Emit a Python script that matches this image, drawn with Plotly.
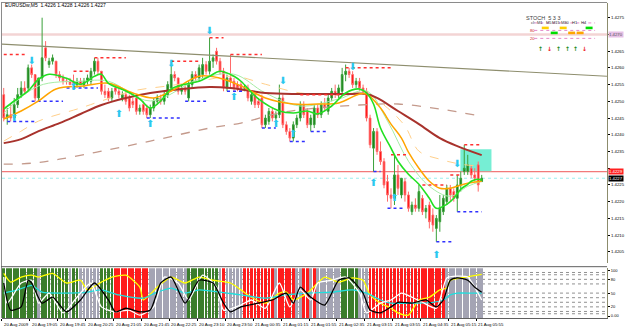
import plotly.graph_objects as go

W, H = 625, 327
def fx(p): return p / W
def fy(p): return 1 - p / H

# ---------------- data ----------------
bars = list(range(138))
opens = [1.4252,1.4245,1.4246,1.4245,1.4249,1.4252,1.4254,1.4254,1.4260,1.4258,
         1.4251,1.4257,1.4266,1.4261,1.4262,1.4262,1.4258,1.4257,1.4256,1.4256,
         1.4256,1.4255,1.4256,1.4255,1.4256,1.4256,1.4259,1.4262,1.4259,1.4253,
         1.4253,1.4251,1.4254,1.4253,1.4251,1.4252,1.4251,1.4250,1.4251,1.4247,
         1.4249,1.4248,1.4246,1.4248,1.4250,1.4251,1.4250,1.4252,1.4254,1.4258,
         1.4257,1.4253,1.4254,1.4251,1.4255,1.4258,1.4257,1.4258,1.4261,1.4259,
         1.4262,1.4265,1.4262,1.4259,1.4254,1.4257,1.4256,1.4255,1.4255,1.4254,
         1.4254,1.4250,1.4252,1.4250,1.4251,1.4243,1.4244,1.4247,1.4245,1.4246,
         1.4251,1.4243,1.4241,1.4239,1.4243,1.4245,1.4249,1.4247,1.4243,1.4243,
         1.4248,1.4246,1.4249,1.4247,1.4251,1.4253,1.4252,1.4253,1.4258,1.4259,
         1.4258,1.4255,1.4256,1.4254,1.4253,1.4245,1.4236,1.4241,1.4235,1.4232,
         1.4226,1.4222,1.4221,1.4228,1.4222,1.4226,1.4222,1.4217,1.4219,1.4218,
         1.4221,1.4217,1.4219,1.4216,1.4212,1.4214,1.4217,1.4220,1.4224,1.4223,
         1.4221,1.4225,1.4229,1.4229,1.4230,1.4228,1.4231,1.4226]
highs = [1.4254,1.4248,1.4249,1.4251,1.4254,1.4256,1.4256,1.4261,1.4261,1.4258,
         1.4257,1.4275,1.4268,1.4263,1.4264,1.4262,1.4259,1.4258,1.4257,1.4257,
         1.4258,1.4257,1.4257,1.4257,1.4258,1.4260,1.4263,1.4263,1.4259,1.4255,
         1.4254,1.4254,1.4255,1.4254,1.4253,1.4253,1.4252,1.4251,1.4251,1.4249,
         1.4250,1.4249,1.4249,1.4251,1.4252,1.4252,1.4253,1.4256,1.4262,1.4259,
         1.4257,1.4255,1.4255,1.4256,1.4259,1.4259,1.4261,1.4263,1.4262,1.4269,
         1.4264,1.4266,1.4263,1.4260,1.4258,1.4264,1.4257,1.4256,1.4256,1.4255,
         1.4255,1.4253,1.4253,1.4251,1.4252,1.4246,1.4248,1.4248,1.4247,1.4255,
         1.4252,1.4244,1.4242,1.4244,1.4246,1.4250,1.4250,1.4248,1.4246,1.4249,
         1.4249,1.4250,1.4251,1.4252,1.4254,1.4255,1.4255,1.4260,1.4261,1.4260,
         1.4259,1.4257,1.4257,1.4255,1.4254,1.4246,1.4242,1.4242,1.4238,1.4233,
         1.4228,1.4224,1.4234,1.4231,1.4227,1.4227,1.4223,1.4220,1.4221,1.4225,
         1.4222,1.4219,1.4220,1.4218,1.4216,1.4222,1.4222,1.4225,1.4225,1.4224,
         1.4228,1.4229,1.4237,1.4234,1.4231,1.4230,1.4232,1.4228]
lows = [1.4244,1.4243,1.4244,1.4244,1.4248,1.4251,1.4252,1.4253,1.4257,1.4250,
        1.4250,1.4256,1.4262,1.4260,1.4261,1.4257,1.4256,1.4255,1.4255,1.4255,
        1.4254,1.4254,1.4255,1.4254,1.4255,1.4255,1.4258,1.4258,1.4252,1.4251,
        1.4250,1.4250,1.4252,1.4251,1.4250,1.4249,1.4247,1.4248,1.4246,1.4246,
        1.4246,1.4245,1.4245,1.4247,1.4249,1.4249,1.4249,1.4251,1.4253,1.4256,
        1.4252,1.4252,1.4252,1.4250,1.4254,1.4256,1.4256,1.4257,1.4258,1.4258,
        1.4260,1.4261,1.4258,1.4253,1.4253,1.4254,1.4253,1.4253,1.4253,1.4253,
        1.4250,1.4249,1.4248,1.4248,1.4242,1.4242,1.4243,1.4244,1.4243,1.4245,
        1.4242,1.4240,1.4238,1.4238,1.4242,1.4244,1.4245,1.4242,1.4241,1.4242,
        1.4245,1.4245,1.4247,1.4246,1.4250,1.4251,1.4251,1.4252,1.4256,1.4257,
        1.4254,1.4254,1.4253,1.4252,1.4244,1.4236,1.4229,1.4234,1.4231,1.4224,
        1.4220,1.4218,1.4219,1.4222,1.4221,1.4220,1.4217,1.4216,1.4217,1.4217,
        1.4216,1.4215,1.4212,1.4211,1.4208,1.4211,1.4216,1.4219,1.4220,1.4220,
        1.4217,1.4223,1.4228,1.4228,1.4227,1.4226,1.4223,1.4226]
closes = [1.4245,1.4246,1.4245,1.4249,1.4252,1.4254,1.4253,1.4260,1.4258,1.4251,
          1.4257,1.4263,1.4263,1.4262,1.4263,1.4258,1.4257,1.4256,1.4256,1.4255,
          1.4255,1.4256,1.4255,1.4256,1.4257,1.4259,1.4262,1.4259,1.4253,1.4252,
          1.4251,1.4253,1.4253,1.4252,1.4252,1.4250,1.4248,1.4249,1.4247,1.4248,
          1.4247,1.4246,1.4248,1.4250,1.4251,1.4250,1.4252,1.4255,1.4258,1.4257,
          1.4253,1.4254,1.4253,1.4255,1.4258,1.4257,1.4260,1.4261,1.4259,1.4262,
          1.4263,1.4262,1.4259,1.4254,1.4257,1.4256,1.4254,1.4254,1.4253,1.4254,
          1.4251,1.4252,1.4249,1.4249,1.4243,1.4245,1.4247,1.4245,1.4246,1.4251,
          1.4243,1.4241,1.4239,1.4243,1.4245,1.4249,1.4246,1.4243,1.4245,1.4248,
          1.4246,1.4249,1.4248,1.4251,1.4253,1.4252,1.4254,1.4258,1.4259,1.4258,
          1.4255,1.4256,1.4254,1.4253,1.4245,1.4237,1.4241,1.4235,1.4232,1.4225,
          1.4222,1.4221,1.4228,1.4224,1.4227,1.4222,1.4218,1.4219,1.4218,1.4223,
          1.4217,1.4218,1.4214,1.4213,1.4215,1.4218,1.4221,1.4224,1.4222,1.4221,
          1.4225,1.4227,1.4230,1.4231,1.4228,1.4227,1.4225,1.4227]

# moving averages
ma_brown_x = [0,5,10,16,22,28,35,42,51,59,65,75,85,99,104,107,113,119,125,130,137]
ma_brown_y = [1.42375,1.42387,1.42411,1.42435,1.42462,1.42489,1.42510,1.42525,1.42537,1.42543,
              1.42540,1.42525,1.42522,1.42522,1.42522,1.42510,1.42471,1.42432,1.42390,1.42366,1.42339]
ma_green_x = [0,3,7,10,13,18,22,26,28,30,35,39,42,45,48,52,56,59,62,66,68,73,79,83,87,90,94,98,
              102,104,106,108,111,113,116,119,122,124,127,129,131,133,134,136,137]
ma_green_y = [1.42477,1.42501,1.42531,1.42566,1.42581,1.42569,1.42551,1.42575,1.42581,1.42554,
              1.42531,1.42507,1.42480,1.42501,1.42537,1.42551,1.42560,1.42575,1.42590,1.42575,
              1.42560,1.42507,1.42471,1.42465,1.42471,1.42462,1.42486,1.42525,1.42537,1.42525,
              1.42492,1.42420,1.42360,1.42321,1.42282,1.42252,1.42210,1.42180,1.42192,1.42210,
              1.42237,1.42252,1.42261,1.42267,1.42264]
ma_orange_x = [0,5,10,15,23,30,37,43,48,56,62,68,75,83,90,96,102,104,108,111,114,116,119,122,125,128,130,133,137]
ma_orange_y = [1.42447,1.42471,1.42501,1.42537,1.42546,1.42554,1.42525,1.42510,1.42531,1.42575,
               1.42569,1.42546,1.42510,1.42492,1.42492,1.42495,1.42522,1.42522,1.42480,1.42432,
               1.42390,1.42348,1.42300,1.42261,1.42240,1.42240,1.42246,1.42255,1.42261]
ma_lorange_x = [0,5,10,22,28,37,47,56,66,75,85,96,104,110,115,119,125,131,137]
ma_lorange_y = [1.42381,1.42411,1.42441,1.42480,1.42501,1.42531,1.42546,1.42560,1.42575,1.42551,
                1.42525,1.42522,1.42522,1.42480,1.42426,1.42351,1.42327,1.42312,1.42306]
ma_lgreen_x = [0,10,22,30,42,56,66,75,85,96,104,110,116,122,128,133,137]
ma_lgreen_y = [1.42465,1.42546,1.42560,1.42560,1.42501,1.42566,1.42581,1.42525,1.42486,1.42507,
               1.42531,1.42441,1.42321,1.42246,1.42216,1.42246,1.42261]
ma_slow_x = [0,8,16,28,42,59,68,79,90,102,113,125,135]
ma_slow_y = [1.42312,1.42315,1.42327,1.42351,1.42381,1.42420,1.42435,1.42465,1.42480,1.42489,
             1.42492,1.42477,1.42459]

trend_x = [-0.5, 172.9]
trend_y = [1.42671, 1.42575]
line_pink = 1.4270
line_red = 1.4229
line_bid = 1.4227
box_x = [130.9, 139.8]
box_y = [1.42291, 1.42357]

res_start = [0,20,26,48,59,65,85,98,111,120,128,132]
res_end = [6,25,35,56,63,74,98,111,116,127,131,137]
res_price = [1.4264,1.4259,1.4263,1.4262,1.4269,1.4264,1.4252,1.4260,1.4234,1.4225,1.4228,1.4237]
sup_start = [1,8,18,41,52,64,74,82,88,106,110,124,130]
sup_end = [9,17,27,51,58,69,78,87,93,108,115,129,137]
sup_price = [1.4244,1.4250,1.4254,1.4245,1.4250,1.4253,1.4242,1.4238,1.4241,1.4229,1.4218,1.4208,1.4217]

dn_x = [8,48,59,80,100,130]
dn_y = [1.4262,1.4261,1.4271,1.4256,1.4260,1.4231]
up_x = [3,20,33,42,66,78,83,106,112,124]
up_y = [1.4245,1.4254,1.4246,1.4243,1.4251,1.4243,1.4240,1.42255,1.4221,1.4204]

price_ticks = [1.4205,1.4210,1.4215,1.4220,1.4225,1.4230,1.4235,1.4240,1.4245,1.4250,
               1.4255,1.4260,1.4265,1.4270,1.4275,1.4280]

time_x = [0,8,16,24,32,40,48,56,64,72,80,88,96,104,112,120,128,136]
time_labels = ["20 Aug 2009","20 Aug 19:05","20 Aug 19:45","20 Aug 20:25","20 Aug 21:05",
               "20 Aug 21:45","20 Aug 22:25","20 Aug 23:10","20 Aug 23:50","21 Aug 00:35",
               "21 Aug 01:15","21 Aug 01:55","21 Aug 02:35","21 Aug 03:15","21 Aug 03:55",
               "21 Aug 04:35","21 Aug 05:15","21 Aug 05:55"]

# sub-window
seg_start = [0,10,11,19,20,22,28,32,42,53,62,63,64,69,78,79,84,86,88,89,90,97,102,105,127]
seg_end   = [9,10,18,19,21,27,31,41,52,61,62,63,68,77,78,83,85,87,88,89,96,101,104,126,137]
seg_state = ['g','s','g','s','g','s','g','r','s','g','s','r','s','r','s','r','s','r','s','r','s','g','s','r','s']

yel_x = [0,2,5,8,10,14,18,22,24,28,31,35,39,40,44,48,52,56,60,65,68,71,75,79,81,83,87,90,92,96,100,
         103,105,108,111,113,116,119,122,125,127,128,131,134,137]
yel_y = [93,74,85,89,85,93,72,78,57,74,85,89,63,35,63,85,72,85,78,72,57,41,28,50,52,35,50,72,85,74,83,
         78,46,28,17,7,2,35,41,57,61,78,83,87,91]
cya_x = [0,4,8,11,18,24,28,33,40,44,48,52,56,64,68,75,81,87,94,100,104,108,111,116,123,126,128,130,134,137]
cya_y = [50,57,67,52,50,52,57,46,39,52,61,50,57,50,46,39,46,50,52,57,50,35,28,28,30,35,46,50,50,50]
blk_x = [0,2,5,7,8,11,14,18,22,26,30,32,35,39,42,45,48,52,56,60,63,65,68,73,77,81,83,85,88,92,96,99,
         103,105,108,111,113,117,121,124,126,128,130,133,135,137]
blk_y = [72,13,20,78,72,28,41,9,35,72,35,9,17,9,13,72,85,28,78,72,28,9,20,28,35,50,28,63,41,24,78,83,
         50,13,7,20,30,28,35,20,35,78,83,78,63,52]
wht_x = [0,1,5,8,10,13,17,21,25,28,32,36,39,43,46,50,53,57,61,63,68,71,75,79,82,85,88,90,94,98,102,
         104,108,111,114,117,120,124,127,130,133,135,137]
wht_y = [85,28,72,78,28,50,7,41,72,20,9,13,2,20,85,72,35,89,63,13,24,35,17,72,20,57,35,72,78,85,50,
         7,28,35,50,41,30,17,83,87,85,63,35]
sub_levels = [5,10,20,30,40,50,70,80,90,95]
sub_ticks = [0,20,50,80,100]

# ---------------- figure ----------------
fig = go.Figure()

state_col = {'g': '#3b7d2b', 's': '#a4a4b4', 'r': '#ff1c1c'}
bar_cols = ['#ffffff'] * len(bars)
for s, e, st in zip(seg_start, seg_end, seg_state):
    for i in range(s, e + 1):
        bar_cols[i] = state_col[st]

fig.add_trace(go.Bar(x=bars, y=[112] * len(bars), base=-6, marker=dict(color=bar_cols, line=dict(width=0)),
                     width=0.8, xaxis='x', yaxis='y2', showlegend=False, hoverinfo='skip'))
for xs, ys, c in [(yel_x, yel_y, '#ffff00'), (cya_x, cya_y, '#20dede'),
                  (wht_x, wht_y, '#ffffff'), (blk_x, blk_y, '#000000')]:
    fig.add_trace(go.Scatter(x=xs, y=ys, mode='lines', line=dict(color=c, width=1.3, shape='spline', smoothing=0.6),
                             xaxis='x', yaxis='y2', showlegend=False, hoverinfo='skip'))

# main chart lines
fig.add_trace(go.Scatter(x=trend_x, y=trend_y, mode='lines', line=dict(color='#8e8e6e', width=1.2),
                         xaxis='x2', yaxis='y', showlegend=False))
fig.add_trace(go.Scatter(x=ma_slow_x, y=ma_slow_y, mode='lines', line=dict(color='#c49a8c', width=1.3, dash='dash', shape='spline'),
                         xaxis='x2', yaxis='y', showlegend=False))
fig.add_trace(go.Scatter(x=ma_lorange_x, y=ma_lorange_y, mode='lines', line=dict(color='#ffcf8a', width=1, dash='dash', shape='spline'),
                         xaxis='x2', yaxis='y', showlegend=False))
fig.add_trace(go.Scatter(x=ma_lgreen_x, y=ma_lgreen_y, mode='lines', line=dict(color='#a6eca6', width=1, shape='spline'),
                         xaxis='x2', yaxis='y', showlegend=False))
fig.add_trace(go.Scatter(x=ma_brown_x, y=ma_brown_y, mode='lines', line=dict(color='#a8322c', width=2, shape='spline'),
                         xaxis='x2', yaxis='y', showlegend=False))

for s, e, p in zip(res_start, res_end, res_price):
    fig.add_trace(go.Scatter(x=[s, e], y=[p, p], mode='lines', line=dict(color='#ff3030', width=1.5, dash='dot'),
                             xaxis='x2', yaxis='y', showlegend=False))
for s, e, p in zip(sup_start, sup_end, sup_price):
    fig.add_trace(go.Scatter(x=[s, e], y=[p, p], mode='lines', line=dict(color='#3030ff', width=1.5, dash='dot'),
                             xaxis='x2', yaxis='y', showlegend=False))

fig.add_trace(go.Candlestick(x=bars, open=opens, high=highs, low=lows, close=closes,
                             increasing=dict(line=dict(color='#3aa03a', width=1), fillcolor='#137a13'),
                             decreasing=dict(line=dict(color='#ff6a6a', width=1), fillcolor='#ff0000'),
                             whiskerwidth=0, xaxis='x2', yaxis='y', showlegend=False))

fig.add_trace(go.Scatter(x=ma_orange_x, y=ma_orange_y, mode='lines', line=dict(color='#ffa500', width=1.5, shape='spline'),
                         xaxis='x2', yaxis='y', showlegend=False))
fig.add_trace(go.Scatter(x=ma_green_x, y=ma_green_y, mode='lines', line=dict(color='#22e022', width=1.6, shape='spline'),
                         xaxis='x2', yaxis='y', showlegend=False))

fig.add_trace(go.Scatter(x=dn_x, y=dn_y, mode='text', text=['⬇'] * len(dn_x),
                         textfont=dict(color='#2cc8ef', size=10, family='DejaVu Sans'),
                         xaxis='x2', yaxis='y', showlegend=False))
fig.add_trace(go.Scatter(x=up_x, y=up_y, mode='text', text=['⬆'] * len(up_x),
                         textfont=dict(color='#2cc8ef', size=10, family='DejaVu Sans'),
                         xaxis='x2', yaxis='y', showlegend=False))

shapes = []
shapes.append(dict(type='line', xref='x2', yref='y', x0=-0.5, x1=172.9, y0=line_pink, y1=line_pink,
                   line=dict(color='#f3d4d4', width=2.5), layer='below'))
shapes.append(dict(type='line', xref='x2', yref='y', x0=-0.5, x1=172.9, y0=line_red, y1=line_red,
                   line=dict(color='#f27a7a', width=1.3), layer='below'))
shapes.append(dict(type='line', xref='x2', yref='y', x0=-0.5, x1=172.9, y0=line_bid, y1=line_bid,
                   line=dict(color='#99eeee', width=1, dash='dot'), layer='below'))
shapes.append(dict(type='rect', xref='x2', yref='y', x0=box_x[0], x1=box_x[1], y0=box_y[0], y1=box_y[1],
                   fillcolor='#76eed4', line=dict(width=0), layer='below'))
for lv in sub_levels:
    shapes.append(dict(type='line', xref='x', yref='y2', x0=-0.5, x1=172.9, y0=lv, y1=lv,
                       line=dict(color='#909090', width=1, dash='dot'), layer='below'))
frame = '#8a8a8a'
shapes.append(dict(type='line', xref='paper', yref='paper', x0=fx(1), x1=fx(609), y0=fy(1.5), y1=fy(1.5), line=dict(color=frame, width=1)))
shapes.append(dict(type='line', xref='paper', yref='paper', x0=fx(1.5), x1=fx(1.5), y0=fy(1), y1=fy(318), line=dict(color=frame, width=1)))
shapes.append(dict(type='line', xref='paper', yref='paper', x0=fx(1), x1=fx(609), y0=fy(266.5), y1=fy(266.5), line=dict(color='#606060', width=1)))

for yy in [22, 29.5, 37.5]:
    shapes.append(dict(type='line', xref='paper', yref='paper', x0=fx(536), x1=fx(597), y0=fy(yy), y1=fy(yy),
                       line=dict(color='#e48ac8', width=1, dash='dot')))
stoch_cols = ['#ffd000', '#00dd00', '#ffd000', '#ffa500', '#ffa500', '#00dd00']
stoch_rows = [27, 32, 27, 32, 32, 27]
stoch_xs = [547, 556, 565, 573.5, 582, 591]
for c, r, xx in zip(stoch_cols, stoch_rows, stoch_xs):
    shapes.append(dict(type='rect', xref='paper', yref='paper', x0=fx(xx - 3.5), x1=fx(xx + 3.5), y0=fy(r + 1.3), y1=fy(r - 1.3),
                       fillcolor=c, line=dict(width=0)))

annotations = []
annotations.append(dict(xref='paper', yref='paper', x=fx(3), y=fy(4.5), xanchor='left', yanchor='middle',
                        text='EURUSDw,M5  1.4226 1.4228 1.4226 1.4227', showarrow=False,
                        font=dict(size=5, color='#000000', family='Liberation Sans')))
for tx, tl in zip(time_x, time_labels):
    annotations.append(dict(xref='x', yref='paper', x=tx - 0.5, y=fy(319.5), xanchor='left', yanchor='top',
                            text=tl, showarrow=False, font=dict(size=4.3, color='#000000', family='Liberation Sans')))
annotations.append(dict(xref='paper', yref='paper', x=fx(563.5), y=fy(12), text='STOCH  5 3 3', showarrow=False,
                        font=dict(size=5.5, color='#404040', family='Liberation Sans')))
hdr = ['cl:', 'M1', 'M5', 'M15', 'M30', 'H1', 'H4']
hdr_x = [539, 547, 556, 565, 573.5, 582, 591]
for t, xx in zip(hdr, hdr_x):
    annotations.append(dict(xref='paper', yref='paper', x=fx(xx), y=fy(17), text=t, showarrow=False,
                            font=dict(size=4, color='#303030', family='Liberation Sans')))
annotations.append(dict(xref='paper', yref='paper', x=fx(539), y=fy(25), text='80', showarrow=False,
                        font=dict(size=4, color='#cc2222', family='Liberation Sans')))
annotations.append(dict(xref='paper', yref='paper', x=fx(539), y=fy(33), text='20', showarrow=False,
                        font=dict(size=4, color='#cc2222', family='Liberation Sans')))
arr_txt = ['↑', '↓', '↑', '↑', '↑', '↓']
arr_col = ['#118811', '#ee1111', '#118811', '#118811', '#118811', '#ee1111']
for t, c, xx in zip(arr_txt, arr_col, stoch_xs):
    annotations.append(dict(xref='paper', yref='paper', x=fx(xx), y=fy(42), text='<b>' + t + '</b>', showarrow=False,
                            font=dict(size=6, color=c, family='DejaVu Sans')))
for val, bg, fg in [(line_pink, '#e6c0e6', '#555555'), (line_red, '#ff2020', '#ffffff'), (line_bid, '#000000', '#ffffff')]:
    annotations.append(dict(xref='paper', yref='y', x=fx(610), y=val, xanchor='left', yanchor='middle',
                            text=f'{val:.4f}', showarrow=False, bgcolor=bg, borderpad=0,
                            font=dict(size=4.3, color=fg, family='Liberation Sans')))

# tick texts hidden where a price label box sits
hidden = [line_pink, 1.4230]
tick_text = ['' if any(abs(v - h) < 1e-9 for h in hidden) else f'{v:.4f}' for v in price_ticks]

axis_col = '#8c8c6c'
fig.update_layout(
    width=W, height=H, margin=dict(l=0, r=0, t=0, b=0),
    paper_bgcolor='white', plot_bgcolor='white',
    bargap=0, showlegend=False,
    xaxis=dict(domain=[fx(2), fx(609)], range=[-0.5, 172.93], anchor='y2', showgrid=False, zeroline=False,
               showticklabels=False, ticks='outside', ticklen=2, tickcolor='#000000',
               tickvals=[t - 0.5 for t in time_x], showline=True, linecolor='#606060', linewidth=1),
    xaxis2=dict(domain=[fx(2), fx(609)], range=[-0.5, 172.93], anchor='y', matches='x', visible=False,
                rangeslider=dict(visible=False)),
    yaxis=dict(domain=[fy(263), fy(2)], range=[1.42016, 1.42794], side='right', anchor='x2',
               showgrid=False, zeroline=False, tickvals=price_ticks, ticktext=tick_text,
               ticks='outside', ticklen=2, tickcolor='#000000', showline=True, linecolor=axis_col, linewidth=1,
               tickfont=dict(size=4.3, color='#000000', family='Liberation Sans')),
    yaxis2=dict(domain=[fy(318), fy(268)], range=[-4.35, 104.35], side='right', anchor='x',
                showgrid=False, zeroline=False, tickvals=sub_ticks,
                ticktext=['0.00' if v == 0 else str(v) for v in sub_ticks],
                ticks='outside', ticklen=2, tickcolor='#000000', showline=True, linecolor=axis_col, linewidth=1,
                tickfont=dict(size=4, color='#000000', family='Liberation Sans')),
    shapes=shapes, annotations=annotations,
)

fig.write_html('out.html')
